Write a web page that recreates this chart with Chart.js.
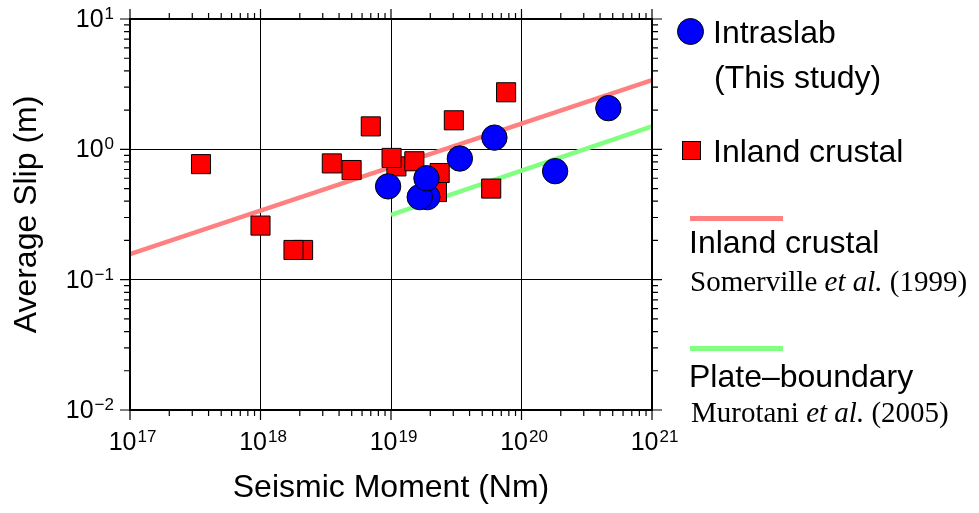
<!DOCTYPE html>
<html>
<head>
<meta charset="utf-8">
<script src="https://cdn.jsdelivr.net/npm/chart.js@4/dist/chart.umd.min.js"></script>
<style>
  body { margin: 0; background: #fff; }
  #wrap { position: relative; width: 979px; height: 513px; }
  .lg { position: absolute; white-space: nowrap; line-height: 1; color: #000; }
  .sans { font-family: "Liberation Sans", Arial, sans-serif; font-size: 32px; }
  .serif { font-family: "Liberation Serif", "Times New Roman", serif; font-size: 29px; }
</style>
</head>
<body>
<div id="wrap">
  <canvas id="chart-slip"></canvas>

  <!-- 凡例 -->
  <div class="lg" style="left:677px;top:18px;width:25px;height:25px;border-radius:50%;background:#0000ff;border:1px solid #000;"></div>
  <div class="lg sans" style="left:713px;top:16px;">Intraslab</div>
  <div class="lg sans" style="left:714px;top:61px;">(This study)</div>

  <div class="lg" style="left:682px;top:141px;width:17px;height:17px;background:#ff0000;border:1px solid #000;"></div>
  <div class="lg sans" style="left:713px;top:135px;">Inland crustal</div>

  <div class="lg" style="left:690px;top:216px;width:93px;height:5px;background:#ff8080;"></div>
  <div class="lg sans" style="left:689px;top:226px;">Inland crustal</div>
  <div class="lg serif" style="left:690px;top:267px;">Somerville <i>et al.</i> (1999)</div>

  <div class="lg" style="left:690px;top:346px;width:93px;height:5px;background:#80ff80;"></div>
  <div class="lg sans" style="left:689px;top:360px;">Plate–boundary</div>
  <div class="lg serif" style="left:691px;top:398px;">Murotani <i>et al.</i> (2005)</div>
</div>

<script>
// 内陸地殻内地震（赤い四角）
const inlandMoment = [3.5e17, 1.0e18, 2.12e18, 1.79e18, 3.52e18, 4.99e18, 7.0e18, 1.1e19, 1.01e19, 1.51e19, 2.36e19, 2.25e19, 3.03e19, 5.86e19, 7.62e19];
const inlandSlip   = [0.77, 0.26, 0.169, 0.169, 0.78, 0.694, 1.50, 0.74, 0.859, 0.81, 0.658, 0.47, 1.67, 0.50, 2.74];

// スラブ内地震（青い丸）
const intraMoment = [9.5e18, 1.9e19, 1.66e19, 1.87e19, 3.37e19, 6.2e19, 1.81e20, 4.63e20];
const intraSlip   = [0.52, 0.43, 0.43, 0.60, 0.85, 1.23, 0.68, 2.07];

// スケーリング則（両端）
const somervilleMoment = [1e17, 1e21];
const somervilleSlip   = [0.157, 3.39];
const murotaniMoment   = [1e19, 1e21];
const murotaniSlip     = [0.314, 1.50];

// 軸の目盛
const xDecades = [17, 18, 19, 20, 21];
const yDecades = [-2, -1, 0, 1];
const minorSteps = [1, 2, 3, 4, 5, 6, 7, 8, 9];

const SANS = '"Liberation Sans", Arial, sans-serif';

const toPoints = (xs, ys) => xs.map((v, i) => ({ x: v, y: ys[i] }));
const isMajor = (v) => Math.abs(Math.log10(v) - Math.round(Math.log10(v))) < 1e-6;

function logTicks(decades) {
  const out = [];
  decades.forEach((d, i) => {
    if (i === decades.length - 1) { out.push(Math.pow(10, d)); return; }
    minorSteps.forEach((m) => out.push(m * Math.pow(10, d)));
  });
  return out.map((v) => ({ value: v }));
}

// 10^n 形式のラベル
function drawPow(ctx, exp, x, y, align) {
  const sup = String(exp).replace('-', '\u2212');
  ctx.font = '25px ' + SANS;
  const w1 = ctx.measureText('10').width;
  ctx.font = '17px ' + SANS;
  const w2 = ctx.measureText(sup).width;
  let left = align === 'center' ? x - (w1 + w2) / 2 : x - (w1 + w2);
  ctx.textAlign = 'left';
  ctx.textBaseline = 'alphabetic';
  ctx.font = '25px ' + SANS;
  ctx.fillText('10', left, y);
  ctx.font = '17px ' + SANS;
  ctx.fillText(sup, left + w1 + 1, y - 8);
}

const frameTicks = {
  id: 'frameTicks',
  afterDraw(chart) {
    const { ctx, chartArea: a, scales } = chart;
    const x = scales.x, y = scales.y;
    ctx.save();
    ctx.strokeStyle = '#000';
    ctx.fillStyle = '#000';
    ctx.lineWidth = 1.2;
    ctx.beginPath();
    x.ticks.forEach((t) => {
      const px = x.getPixelForValue(t.value);
      const len = isMajor(t.value) ? 10 : 6;
      ctx.moveTo(px, a.bottom); ctx.lineTo(px, a.bottom + len);
      ctx.moveTo(px, a.top); ctx.lineTo(px, a.top - len);
    });
    y.ticks.forEach((t) => {
      const py = y.getPixelForValue(t.value);
      const len = isMajor(t.value) ? 10 : 6;
      ctx.moveTo(a.left, py); ctx.lineTo(a.left - len, py);
      ctx.moveTo(a.right, py); ctx.lineTo(a.right + len, py);
    });
    ctx.stroke();

    // 枠
    ctx.lineWidth = 2;
    ctx.strokeRect(a.left, a.top, a.right - a.left, a.bottom - a.top);

    // 目盛ラベル
    x.ticks.filter((t) => isMajor(t.value)).forEach((t) => {
      drawPow(ctx, Math.round(Math.log10(t.value)), x.getPixelForValue(t.value) + 2, 450, 'center');
    });
    y.ticks.filter((t) => isMajor(t.value)).forEach((t) => {
      drawPow(ctx, Math.round(Math.log10(t.value)), 113, y.getPixelForValue(t.value) + 8, 'right');
    });

    // 軸タイトル
    ctx.font = '32px ' + SANS;
    ctx.textAlign = 'center';
    ctx.textBaseline = 'alphabetic';
    ctx.fillText('Seismic Moment (Nm)', (a.left + a.right) / 2, 497);
    ctx.translate(36, (a.top + a.bottom) / 2);
    ctx.rotate(-Math.PI / 2);
    ctx.fillText('Average Slip (m)', 0, 0);
    ctx.restore();
  },
};

const gridColor = (c) => (c.tick && isMajor(c.tick.value) ? '#000' : 'rgba(0,0,0,0)');

document.addEventListener('DOMContentLoaded', () => {
  const wrap = document.getElementById('wrap');
  const canvas = document.getElementById('chart-slip');
  new Chart(canvas, {
    type: 'scatter',
    data: {
      datasets: [
        {
          label: 'Intraslab (This study)',
          data: toPoints(intraMoment, intraSlip),
          pointStyle: 'circle',
          pointRadius: 12.7,
          backgroundColor: '#0000ff',
          borderColor: '#000',
          borderWidth: 1,
          order: 0,
        },
        {
          label: 'Inland crustal',
          data: toPoints(inlandMoment, inlandSlip),
          pointStyle: 'rect',
          pointRadius: 13.5,
          backgroundColor: '#ff0000',
          borderColor: '#000',
          borderWidth: 1,
          order: 1,
        },
        {
          label: 'Somerville et al. (1999)',
          data: toPoints(somervilleMoment, somervilleSlip),
          showLine: true,
          pointRadius: 0,
          borderColor: '#ff8080',
          borderWidth: 4.5,
          order: 2,
        },
        {
          label: 'Murotani et al. (2005)',
          data: toPoints(murotaniMoment, murotaniSlip),
          showLine: true,
          pointRadius: 0,
          borderColor: '#80ff80',
          borderWidth: 4.5,
          order: 3,
        },
      ],
    },
    options: {
      responsive: true,
      maintainAspectRatio: false,
      animation: false,
      layout: { padding: { left: 130, right: 327, top: 19, bottom: 103 } },
      plugins: { legend: { display: false }, tooltip: { enabled: false } },
      scales: {
        x: {
          type: 'logarithmic',
          min: 1e17,
          max: 1e21,
          ticks: { display: false },
          grid: { color: gridColor, lineWidth: 1, drawTicks: false },
          border: { display: false },
          afterBuildTicks: (s) => { s.ticks = logTicks(xDecades); },
          afterFit: (s) => { s.height = 0; },
        },
        y: {
          type: 'logarithmic',
          min: 1e-2,
          max: 1e1,
          ticks: { display: false },
          grid: { color: gridColor, lineWidth: 1, drawTicks: false },
          border: { display: false },
          afterBuildTicks: (s) => { s.ticks = logTicks(yDecades); },
          afterFit: (s) => { s.width = 0; },
        },
      },
    },
    plugins: [frameTicks],
  });
});
</script>
</body>
</html>
